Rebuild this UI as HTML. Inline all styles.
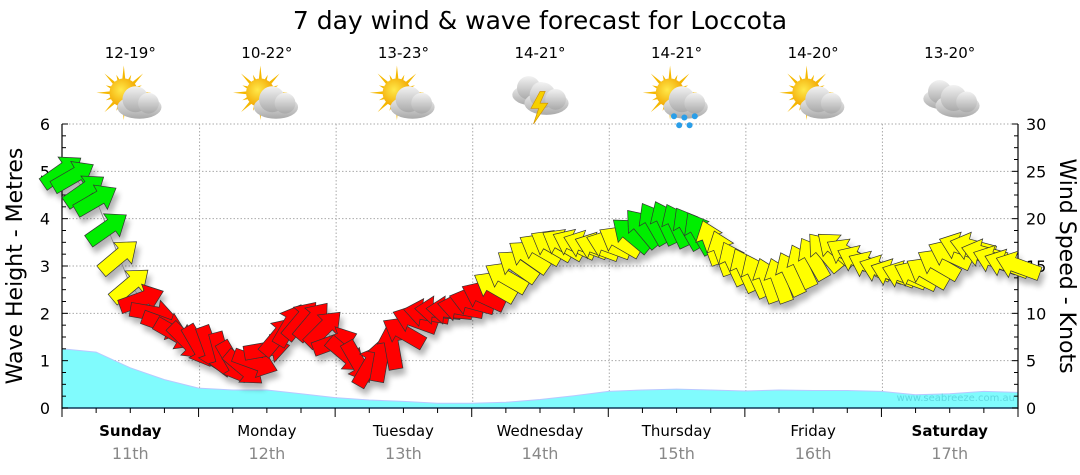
<!DOCTYPE html>
<html><head><meta charset="utf-8"><style>
html,body{margin:0;padding:0;background:#fff;}
svg{display:block;font-family:"DejaVu Sans","Liberation Sans",sans-serif;}
</style></head><body>
<svg id="chart" width="1080" height="475" viewBox="0 0 1080 475" xmlns="http://www.w3.org/2000/svg">
<defs>
<filter id="sh" x="-50%" y="-50%" width="200%" height="200%"><feGaussianBlur in="SourceAlpha" stdDeviation="3"/><feOffset dx="3" dy="6"/><feComponentTransfer><feFuncA type="linear" slope="0.3"/></feComponentTransfer><feMerge><feMergeNode/><feMergeNode in="SourceGraphic"/></feMerge></filter>
<radialGradient id="sun" cx="0.4" cy="0.4" r="0.6"><stop offset="0" stop-color="#ffe94a"/><stop offset="1" stop-color="#f2a500"/></radialGradient>
<linearGradient id="cloud" x1="0" y1="0" x2="0" y2="1"><stop offset="0" stop-color="#f2f2f2"/><stop offset="1" stop-color="#a9a9a9"/></linearGradient>
</defs>
<text x="540" y="29" text-anchor="middle" font-size="25" fill="#000">7 day wind &amp; wave forecast for Loccota</text>
<g id="grid"></g>
<g id="wave"></g>
<g id="axes"></g>
<g id="wind" filter="url(#sh)"></g>
<g id="header"></g>
<text x="1015" y="401" text-anchor="end" font-size="10" fill="#5fd8e0">www.seabreeze.com.au</text>
<text transform="translate(22,266) rotate(-90)" text-anchor="middle" font-size="22" fill="#000">Wave Height - Metres</text>
<text transform="translate(1060,266) rotate(90)" text-anchor="middle" font-size="22" fill="#000">Wind Speed - Knots</text>
</svg>
<script>
const dayNames = ["Sunday","Monday","Tuesday","Wednesday","Thursday","Friday","Saturday"];
const dayDates = ["11th","12th","13th","14th","15th","16th","17th"];
const dayBold = [true,false,false,false,false,false,true];
const tempRanges = ["12-19°","10-22°","13-23°","14-21°","14-21°","14-20°","13-20°"];
const weatherIcons = ["suncloud","suncloud","suncloud","storm","rain","suncloud","cloud"];
const waveHours = [0,6,12,18,24,30,36,42,48,54,60,66,72,78,84,90,96,102,108,114,120,126,132,138,144,150,156,162,168];
const waveHeights = [1.25,1.18,0.85,0.6,0.42,0.38,0.38,0.3,0.22,0.17,0.14,0.1,0.1,0.12,0.18,0.26,0.35,0.38,0.4,0.38,0.36,0.38,0.37,0.37,0.35,0.28,0.3,0.35,0.33];
const windSpeeds = [25,24.5,23,22,19,16,13,11.5,10,8.8,7.8,7,6.5,
6.3,5.6,4.8,4.2,4.8,6.2,7.6,8.8,9.3,9.2,8.4,7.0,
5.6,4.8,4.5,5.2,6.5,8,9.3,10,10.3,10.3,10.6,11.2,
11.8,12.8,13.8,15,16,16.8,17.2,17.3,17.3,17.2,17.0,17.2,
17.6,18.3,19,19.5,19.6,19.3,19,18.5,17.5,16.4,15.3,14.6,
14,13.5,13.5,14.2,15,15.8,16.5,16.8,16.3,15.6,15,14.6,
14.2,14,14,14.3,15.2,16.2,17,17,16.3,15.6,15.2,15];
const windDirs = [-35,-30,-35,-30,-35,-40,-40,-20,10,20,30,45,60,
70,75,60,40,20,-10,-50,-60,-50,-50,-45,-20,
40,60,-60,-80,-100,-150,-160,-170,-175,-175,-170,-165,
-155,-150,-150,-145,-145,-150,-150,-150,-155,-160,-160,-160,
-150,-140,-130,-120,-115,-115,-120,-120,-110,-110,-115,-115,
-115,-110,-110,-115,-115,-120,-130,-140,-150,-155,-155,-160,
-160,-160,-155,-150,-150,-155,-160,-165,-165,-160,-160,-160];
const leftTicks = [0,1,2,3,4,5,6];
const rightTicks = [0,5,10,15,20,25,30];

const NS="http://www.w3.org/2000/svg";
const X0=62,X1=1018,Y0=408,Y1=124,HOURS=168;
const xScale=h=>X0+h/HOURS*(X1-X0);
const yWave=m=>Y0-m/6*(Y0-Y1);
const yKnots=k=>Y0-k/30*(Y0-Y1);
function mk(tag,attrs,parent){const e=document.createElementNS(NS,tag);for(const k in attrs)e.setAttribute(k,attrs[k]);parent.appendChild(e);return e;}
const grid=document.getElementById('grid'),axes=document.getElementById('axes'),wave=document.getElementById('wave'),wind=document.getElementById('wind'),header=document.getElementById('header');
leftTicks.forEach(t=>{if(t===0)return;const l=mk('line',{x1:X0,x2:X1,y1:yWave(t),y2:yWave(t),stroke:'#aaa','stroke-dasharray':'1.5,2','stroke-width':1},grid);

});
for(let d=1;d<7;d++){const x=xScale(d*24)+1;const l=mk('line',{x1:x,x2:x,y1:Y1,y2:Y0,stroke:'#aaa','stroke-dasharray':'1.5,2','stroke-width':1},grid);

}
let d='M'+xScale(waveHours[0])+','+Y0;
waveHours.forEach((h,i)=>{d+=' L'+xScale(h).toFixed(1)+','+yWave(waveHeights[i]).toFixed(1);});
d+=' L'+xScale(waveHours[waveHours.length-1])+','+Y0+' Z';
const wp=mk('path',{d:d,fill:'#80fbfd',stroke:'#b8c8ff','stroke-width':1},wave);


mk('line',{x1:X0,x2:X0,y1:Y1,y2:Y0+1,stroke:'#000','stroke-width':1.2},axes);
mk('line',{x1:X1,x2:X1,y1:Y1,y2:Y0+1,stroke:'#000','stroke-width':1.2},axes);
mk('line',{x1:X0,x2:X1,y1:Y0,y2:Y0,stroke:'#13395a','stroke-width':1.5},axes);
for(let m=0;m<=24;m++){const y=yWave(m/4);const len=m%4===0?6:4;mk('line',{x1:X0,x2:X0+len,y1:y,y2:y,stroke:'#000'},axes);mk('line',{x1:X1-len,x2:X1,y1:y,y2:y,stroke:'#000'},axes);}
leftTicks.forEach(t=>{const e=mk('text',{x:X0-12,y:yWave(t)+6,'text-anchor':'end','font-size':16,fill:'#000'},axes);e.textContent=t;

});
rightTicks.forEach(t=>{const e=mk('text',{x:X1+8,y:yKnots(t)+6,'font-size':16,fill:'#000'},axes);e.textContent=t;

});
for(let q=0;q<=28;q++){const x=xScale(q*6);const len=q%4===0?9:5;mk('line',{x1:x,x2:x,y1:Y0,y2:Y0+len,stroke:'#000'},axes);}
dayNames.forEach((n,i)=>{const cx=xScale(i*24+12);
const t=mk('text',{x:cx,y:436,'text-anchor':'middle','font-size':15,'font-weight':dayBold[i]?'bold':'normal',fill:'#000'},axes);t.textContent=n;


const t2=mk('text',{x:cx,y:459,'text-anchor':'middle','font-size':16,fill:'#888'},axes);t2.textContent=dayDates[i];


const t3=mk('text',{x:cx,y:58,'text-anchor':'middle','font-size':15,fill:'#000'},header);t3.textContent=tempRanges[i];


drawIcon(weatherIcons[i],cx,98);});
function sun(g,x,y){for(let a=0;a<16;a++){const ang=a*Math.PI/8;const r=a%2?15:21;mk('polygon',{points:`${x+Math.cos(ang-0.18)*8},${y+Math.sin(ang-0.18)*8} ${x+Math.cos(ang)*r},${y+Math.sin(ang)*r} ${x+Math.cos(ang+0.18)*8},${y+Math.sin(ang+0.18)*8}`,fill:'#f5b800'},g);}mk('circle',{cx:x,cy:y,r:11,fill:'url(#sun)'},g);}
function cloud(g,x,y,s){mk('ellipse',{cx:x,cy:y+4*s,rx:17*s,ry:9*s,fill:'url(#cloud)'},g);mk('circle',{cx:x-3*s,cy:y-2*s,r:10*s,fill:'url(#cloud)'},g);mk('circle',{cx:x+7*s,cy:y+1*s,r:8*s,fill:'url(#cloud)'},g);}
function drawIcon(type,cx,cy){const g=mk('g',{transform:`translate(${cx},${cy}) scale(1.3)`},header);


const x=0,y=0;
if(type==='suncloud'||type==='rain'){sun(g,x-5,y-4);cloud(g,x+7,y+3,1);}
if(type==='rain'){[[-2,14],[6,15],[14,14],[2,21],[10,21]].forEach(p=>mk('circle',{cx:x+p[0],cy:y+p[1],r:2.3,fill:'#2a9ee8'},g));}
if(type==='storm'){cloud(g,x-6,y-6,0.9);cloud(g,x+5,y,1);mk('polygon',{points:`${x},${y-5} ${x-7},${y+8} ${x-1},${y+8} ${x-5},${y+20} ${x+6},${y+4} ${x},${y+4} ${x+4},${y-5}`,fill:'#f7d000',stroke:'#d09000','stroke-width':0.5},g);}
if(type==='cloud'){cloud(g,x-5,y-3,0.9);cloud(g,x+6,y+2,1);}}
let ld='';windSpeeds.forEach((k,i)=>{ld+=(i?' L':'M')+xScale(i*2).toFixed(1)+','+yKnots(k).toFixed(1);});
const wl=mk('path',{d:ld,fill:'none',stroke:'#888','stroke-width':1},wind);


function col(k){return k>=18?'#00ee00':(k>=12?'#ffff00':'#ff0000');}
windSpeeds.forEach((k,i)=>{const x=xScale(i*2),y=yKnots(k);
const p=mk('polygon',{points:'-23,-7 5,-7 5,-14 23,0 5,14 5,7 -23,7',fill:col(k),stroke:'#333','stroke-width':0.7,'stroke-linejoin':'miter',transform:`translate(${x.toFixed(1)},${y.toFixed(1)}) rotate(${windDirs[i]})`},wind);

});
</script>
</body></html>
